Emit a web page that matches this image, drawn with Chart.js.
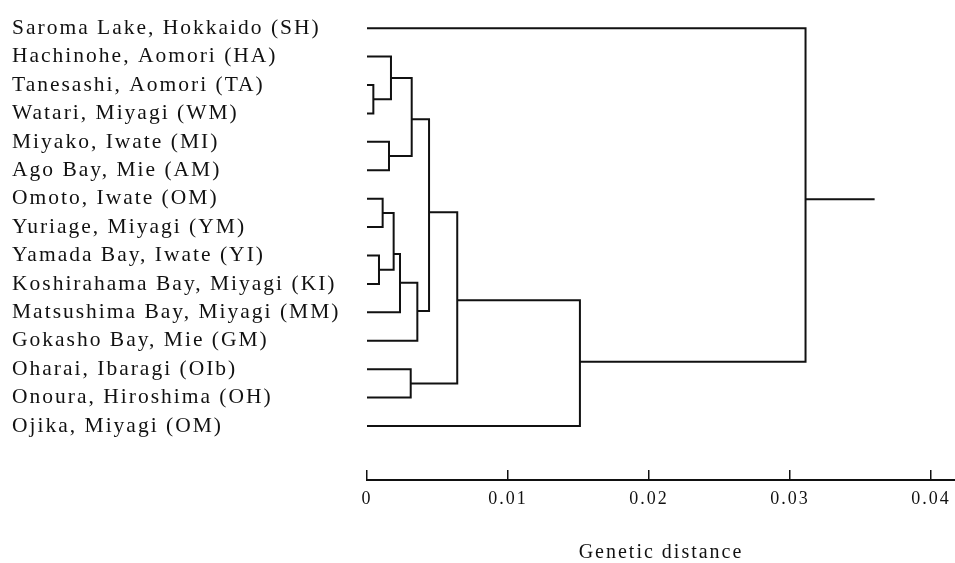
<!DOCTYPE html>
<html><head><meta charset="utf-8">
<script src="https://cdn.jsdelivr.net/npm/chart.js@4/dist/chart.umd.min.js"></script>
<style>html,body{margin:0;padding:0;background:#fff;} #wrap{position:relative;width:955px;height:563px;background:#fff;}</style>
</head><body><div id="wrap"><canvas id="c"></canvas></div>
<script>
// Leaves (rows 0..14, top to bottom)
const leafLabels = [
  'Saroma Lake, Hokkaido (SH)',
  'Hachinohe, Aomori (HA)',
  'Tanesashi, Aomori (TA)',
  'Watari, Miyagi (WM)',
  'Miyako, Iwate (MI)',
  'Ago Bay, Mie (AM)',
  'Omoto, Iwate (OM)',
  'Yuriage, Miyagi (YM)',
  'Yamada Bay, Iwate (YI)',
  'Koshirahama Bay, Miyagi (KI)',
  'Matsushima Bay, Miyagi (MM)',
  'Gokasho Bay, Mie (GM)',
  'Oharai, Ibaragi (OIb)',
  'Onoura, Hiroshima (OH)',
  'Ojika, Miyagi (OM)'
];
// Merges: ids 0..14 are leaves, merge k gets id 15+k
const mergeLeft   = [2, 1, 4, 16, 6, 8, 19, 21, 22, 18, 12, 24, 26, 0];
const mergeRight  = [3, 15, 5, 17, 7, 9, 20, 10, 11, 23, 13, 25, 14, 27];
const mergeHeight = [0.00045, 0.0017, 0.00156, 0.00317, 0.00111, 0.00085, 0.00189, 0.00234, 0.00357, 0.0044, 0.0031, 0.0064, 0.0151, 0.0311];
const mergeRow    = [2.5, 1.75, 4.5, 3.2, 6.5, 8.5, 7.95, 8.96, 9.95, 6.48, 12.5, 9.57, 11.74, 6.02];
const rootStubEnd = 0.036;
const xTickValues = [0, 0.01, 0.02, 0.03, 0.04];
const xTickLabels = ['0', '0.01', '0.02', '0.03', '0.04'];
const axisTitle = 'Genetic distance';

const nLeaf = leafLabels.length;
const heightOf = id => id < nLeaf ? 0 : mergeHeight[id - nLeaf];
const rowOf = id => id < nLeaf ? id : mergeRow[id - nLeaf];

const lineStyle = {borderColor: '#111', borderWidth: 2, pointRadius: 0, fill: false, tension: 0, showLine: true};
const datasets = mergeHeight.map((h, k) => {
  const a = mergeLeft[k], b = mergeRight[k];
  return Object.assign({
    data: [
      {x: heightOf(a), y: rowOf(a)},
      {x: h, y: rowOf(a)},
      {x: h, y: rowOf(b)},
      {x: heightOf(b), y: rowOf(b)}
    ]
  }, lineStyle);
});
const rootK = mergeHeight.length - 1;
datasets.push(Object.assign({
  data: [{x: mergeHeight[rootK], y: mergeRow[rootK]}, {x: rootStubEnd, y: mergeRow[rootK]}]
}, lineStyle));

const spacing = {
  id: 'spacing',
  beforeLayout(chart) { chart.ctx.letterSpacing = '2px'; },
  beforeDraw(chart) { chart.ctx.letterSpacing = '2px'; }
};

new Chart(document.getElementById('c'), {
  type: 'line',
  data: {datasets},
  plugins: [spacing],
  options: {
    responsive: true,
    maintainAspectRatio: false,
    animation: false,
    events: [],
    layout: {padding: {left: 12, top: 14, right: 0, bottom: 0}},
    plugins: {legend: {display: false}, tooltip: {enabled: false}},
    scales: {
      x: {
        type: 'linear',
        min: 0,
        max: 0.0417,
        afterBuildTicks: s => { s.ticks = xTickValues.map(v => ({value: v})); },
        afterFit: s => { s.height = 83; s.paddingLeft = 0; s.paddingRight = 0; },
        grid: {display: true, drawOnChartArea: false, drawTicks: true, tickLength: -10, color: '#111', lineWidth: 1.5},
        border: {display: true, color: '#111', width: 2},
        ticks: {
          autoSkip: false, maxRotation: 0, padding: 18,
          color: '#111',
          font: {family: '"Liberation Serif", "Times New Roman", serif', size: 18},
          callback: (v, i) => xTickLabels[i]
        },
        title: {
          display: true, text: axisTitle, color: '#111',
          font: {family: '"Liberation Serif", "Times New Roman", serif', size: 20},
          padding: {top: 0, bottom: -2}
        }
      },
      y: {
        type: 'linear',
        reverse: true,
        min: -0.5,
        max: 15.9,
        afterBuildTicks: s => { s.ticks = leafLabels.map((_, i) => ({value: i})); },
        afterFit: s => { s.width = 355; },
        grid: {display: false, drawTicks: false},
        border: {display: false},
        ticks: {
          autoSkip: false, padding: 0, crossAlign: 'far',
          color: '#111',
          font: {family: '"Liberation Serif", "Times New Roman", serif', size: 21.5},
          callback: v => leafLabels[Math.round(v)]
        }
      }
    }
  }
});
</script>
</body></html>
